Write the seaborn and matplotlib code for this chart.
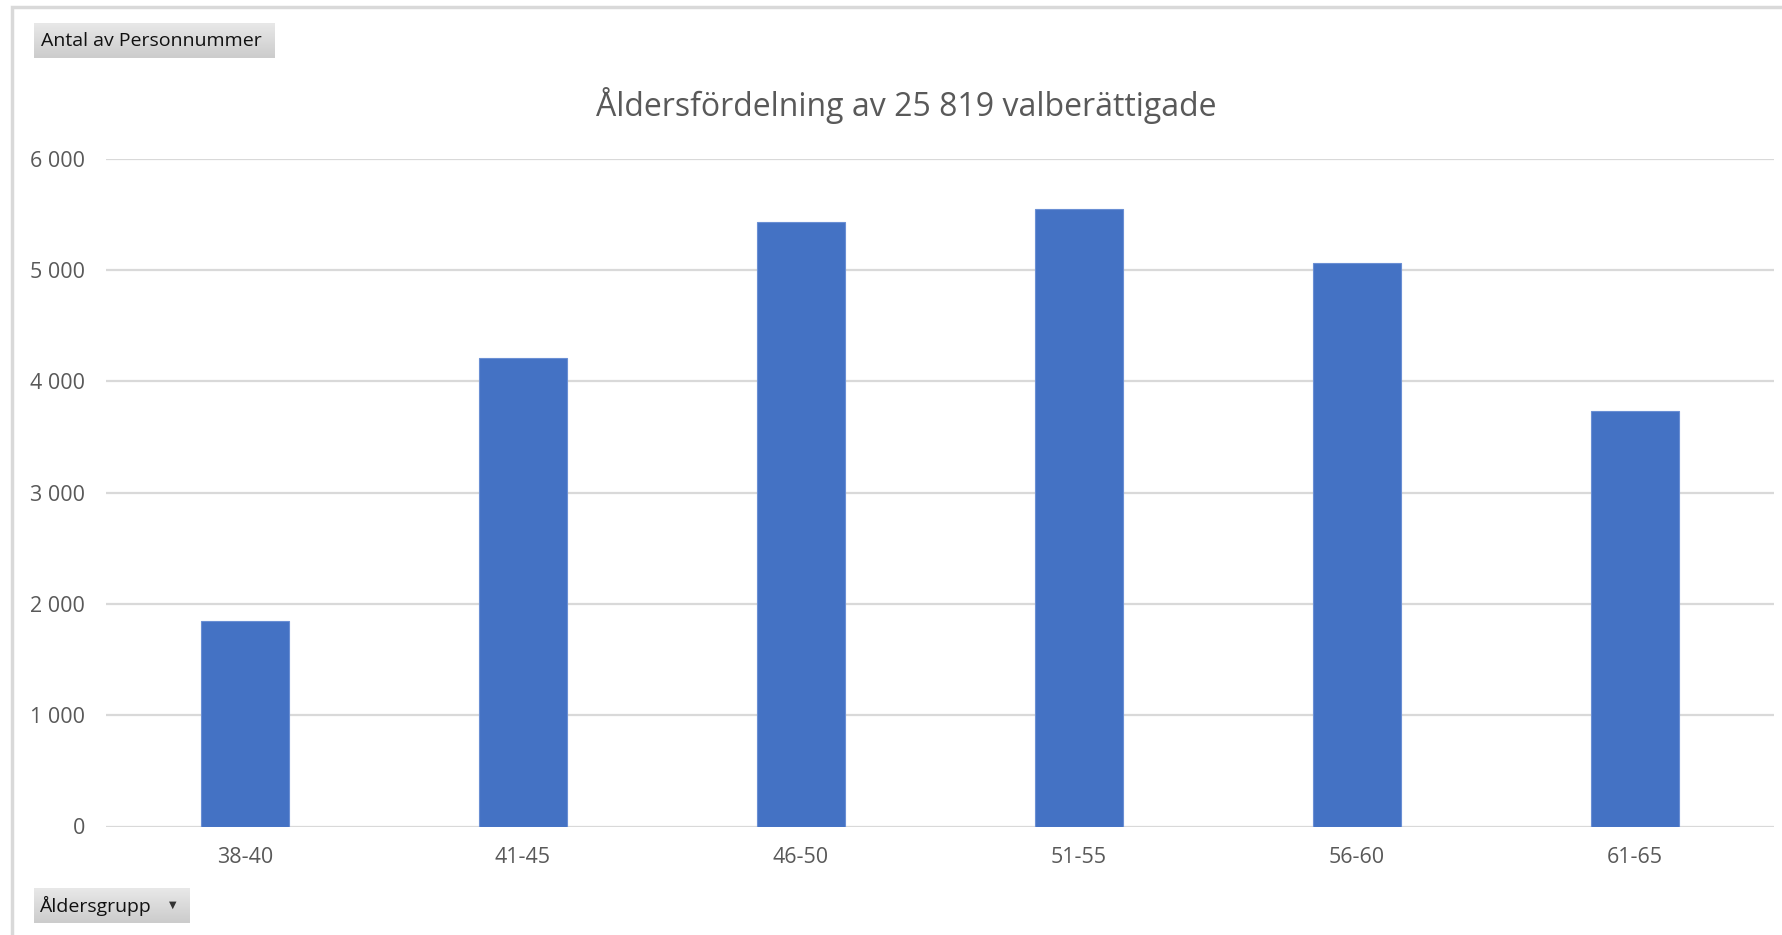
import numpy as np
import pandas as pd
import matplotlib
matplotlib.use("Agg")
import matplotlib.pyplot as plt
from matplotlib.patches import Rectangle
import seaborn as sns

# data
aldersgrupper = ['38-40', '41-45', '46-50', '51-55', '56-60', '61-65']
antal = [1843, 4205, 5427, 5550, 5060, 3734]
y_ticks = [0, 1000, 2000, 3000, 4000, 5000, 6000]
y_labels = ['0', '1 000', '2 000', '3 000', '4 000', '5 000', '6 000']
titel = 'Åldersfördelning av 25 819 valberättigade'

df = pd.DataFrame({'Åldersgrupp': aldersgrupper, 'Antal': antal})

sns.set_style('white')
plt.rcParams['font.family'] = ['Open Sans', 'DejaVu Sans']

W, H = 1783, 935
fig = plt.figure(figsize=(W / 100, H / 100), dpi=100)

# ram runt diagrammet
fig.patches.append(Rectangle((12 / W, -0.05), 1.1, 1 - 7 / H + 0.05,
                             transform=fig.transFigure, fill=False,
                             edgecolor='#D9D9D9', linewidth=2.5))

ax = fig.add_axes([106 / W, 1 - 826.5 / H, (1774 - 106) / W, (826.5 - 158.7) / H])
sns.barplot(data=df, x='Åldersgrupp', y='Antal', color='#4472C4', saturation=1,
            width=0.315, edgecolor='#6A8FD4', linewidth=0.8, ax=ax, zorder=3)

ax.set_ylim(0, 6000)
ax.set_xlim(-0.5, len(aldersgrupper) - 0.5)
ax.set_yticks(y_ticks)
ax.set_yticklabels(y_labels)
ax.yaxis.grid(True, color='#D9D9D9', linewidth=1.6, zorder=0)
ax.set_axisbelow(True)
for s in ['top', 'right', 'left', 'bottom']:
    ax.spines[s].set_visible(False)
ax.tick_params(axis='both', length=0, labelsize=15.5, labelcolor='#595959')
ax.tick_params(axis='y', pad=15)
ax.tick_params(axis='x', pad=15)
ax.set_xlabel('')
ax.set_ylabel('')

fig.text(906 / W, 1 - 105 / H, titel, ha='center', va='center',
         fontsize=23, color='#595959')

# knappar (pivotfält)
def knapp(x0, y0, x1, y1, text):
    bax = fig.add_axes([x0 / W, 1 - y1 / H, (x1 - x0) / W, (y1 - y0) / H])
    grad = np.linspace(0.91, 0.80, 50).reshape(-1, 1)
    bax.imshow(np.dstack([grad, grad, grad]), aspect='auto', extent=[0, 1, 0, 1])
    bax.set_axis_off()
    bax.text(0.03, 0.5, text, ha='left', va='center', fontsize=14,
             color='#111111', transform=bax.transAxes)
    return bax

knapp(34, 23, 275, 58, 'Antal av Personnummer')
b2 = knapp(34, 888, 190, 923, 'Åldersgrupp')
b2.text(0.89, 0.5, '▼', ha='center', va='center', fontsize=7,
        color='#333333', transform=b2.transAxes)

fig.savefig('out.png', dpi=100)
